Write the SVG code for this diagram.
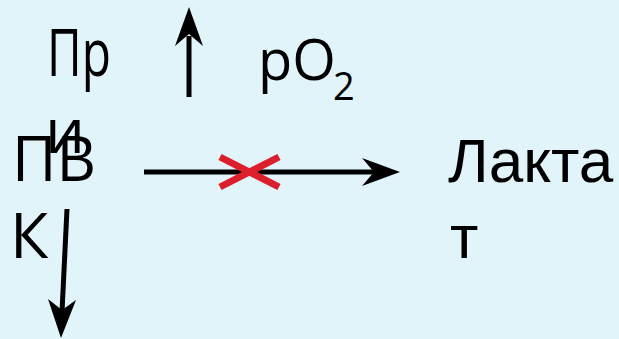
<svg xmlns="http://www.w3.org/2000/svg" width="619" height="339" viewBox="0 0 619 339">
<style>
.t{font-family:"Open Sans","Noto Sans",sans-serif;fill:#000}
.a{font-family:"Liberation Sans",Arial,sans-serif;fill:#000}
.ln{stroke:#000;stroke-width:5;fill:none}
.hd{fill:#000}
.x{stroke:#dc1f2b;stroke-width:7;fill:none}
</style>
<rect width="619" height="339" fill="#e1f4f9"/>
<g id="pri">
<text class="t" x="47" y="76" font-size="65" textLength="64" lengthAdjust="spacingAndGlyphs">Пр</text>
<text class="t" x="45" y="153" font-size="63">и</text>
</g>
<g id="pvk">
<text class="t" x="12" y="181" font-size="63" textLength="84" lengthAdjust="spacingAndGlyphs">ПВ</text>
<text class="t" x="10" y="258" font-size="63">К</text>
</g>
<g id="po2">
<text class="t" x="258" y="80" font-size="56">pO<tspan font-size="38" x="333" y="100">2</tspan></text>
</g>
<g id="lactate">
<text class="a" x="448" y="182" font-size="62">Лакта</text>
<text class="a" x="450" y="258" font-size="62">т</text>
</g>
<g id="connectors">
<line class="ln" x1="189" y1="97" x2="189" y2="36"/>
<polygon class="hd" points="189,7 203,46 189,34 175,46"/>
<line class="ln" x1="144" y1="172" x2="374" y2="172"/>
<polygon class="hd" points="400,172 362,186 374,172 362,158"/>
<line class="ln" x1="67" y1="209" x2="62" y2="312"/>
<polygon class="hd" points="61,338 48,299 62,310 76,300"/>
</g>
<g id="cross">
<line class="x" x1="220" y1="157" x2="279" y2="187"/>
<line class="x" x1="220" y1="187" x2="279" y2="157"/>
</g>
</svg>
